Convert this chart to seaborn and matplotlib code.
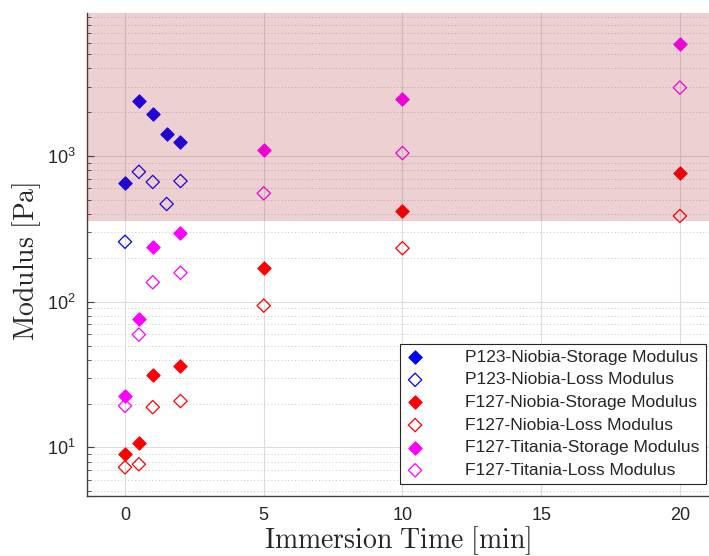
import numpy as np
import pandas as pd
import matplotlib
matplotlib.use("Agg")
import matplotlib.pyplot as plt
import matplotlib.ticker as mticker
import seaborn as sns

# ---- data ----
times_p123 = [0, 0.5, 1, 1.5, 2]
p123_storage = [653, 2380, 1940, 1415, 1247]
p123_loss = [258, 780, 664, 469, 674]

times_f127 = [0, 0.5, 1, 2, 5, 10, 20]
f127_nb_storage = [9.0, 10.8, 31.3, 36.1, 170, 418, 769]
f127_nb_loss = [7.3, 7.66, 18.9, 20.8, 94, 233, 388]
f127_ti_storage = [22.5, 76.6, 237, 295, 1094, 2466, 5875]
f127_ti_loss = [19.3, 59.5, 136, 158, 555, 1049, 2951]

series_labels = ["P123-Niobia-Storage Modulus", "P123-Niobia-Loss Modulus",
                 "F127-Niobia-Storage Modulus", "F127-Niobia-Loss Modulus",
                 "F127-Titania-Storage Modulus", "F127-Titania-Loss Modulus"]
series_colors = ["#0000ff", "#0000ff", "#ff0000", "#ff0000", "#ff00ff", "#ff00ff"]
series_filled = [True, False, True, False, True, False]
series_times = [times_p123, times_p123, times_f127, times_f127, times_f127, times_f127]
series_values = [p123_storage, p123_loss, f127_nb_storage, f127_nb_loss,
                 f127_ti_storage, f127_ti_loss]

shade_low = 360
xticks = [0, 5, 10, 15, 20]

# ---- style ----
sns.set_style("white")
plt.rcParams['font.family'] = ['Liberation Sans', 'DejaVu Sans']
plt.rcParams['mathtext.fontset'] = 'cm'

fig = plt.figure(figsize=(7.09, 5.56), dpi=100)
ax = fig.add_axes([87/709, 1-496/556, 1-87/709, (496-13)/556])

for lab, col, filled, t, v in zip(series_labels, series_colors, series_filled,
                                  series_times, series_values):
    df = pd.DataFrame({"t": t, "v": v})
    if filled:
        sns.scatterplot(data=df, x="t", y="v", ax=ax, marker="D", s=46,
                        color=col, edgecolor=col, linewidth=0.8, label=lab, zorder=3)
    else:
        sns.scatterplot(data=df, x="t", y="v", ax=ax, marker="D", s=46,
                        facecolor="none", edgecolor=col, linewidth=0.9, label=lab, zorder=3)

ax.set_yscale("log")
ax.set_xlim(-1.37, 21.05)
ax.set_ylim(4.64, 9600)

ax.axhspan(shade_low, 9600, color=(0.65, 0.08, 0.12), alpha=0.2, lw=0, zorder=5)

ax.set_xticks(xticks)
ax.yaxis.set_major_locator(mticker.LogLocator(base=10, numticks=10))
ax.yaxis.set_minor_locator(mticker.LogLocator(base=10, subs=np.arange(2, 10), numticks=20))
ax.yaxis.set_minor_formatter(mticker.NullFormatter())

ax.grid(True, which="major", axis="both", color="#dcdcdc", lw=0.8, ls="-", zorder=0)
ax.grid(True, which="minor", axis="y", color="#c8c8c8", lw=0.7, ls=(0, (1, 2.5)), zorder=0)
ax.set_axisbelow(True)

for s in ["top", "right"]:
    ax.spines[s].set_visible(False)
for s in ["left", "bottom"]:
    ax.spines[s].set_color("#404040")
    ax.spines[s].set_linewidth(1.0)

ax.tick_params(axis="both", which="major", direction="in", length=5, width=0.8,
               color="#404040", labelsize=13, labelcolor="#262626", pad=8)
ax.tick_params(axis="y", which="minor", direction="in", length=3, width=0.6, color="#404040")
ax.tick_params(axis="x", which="both", top=False)
ax.tick_params(axis="y", which="both", right=False, left=True)

ax.set_xlabel(r"$\mathrm{Immersion\ Time\ [min]}$", fontsize=20, color="#262626", labelpad=0)
ax.set_ylabel(r"$\mathrm{Modulus\ [Pa]}$", fontsize=20, color="#262626")
ax.yaxis.set_label_coords(-0.071, 0.485)

leg = ax.legend(loc="lower right", bbox_to_anchor=(0.995, 0.025), borderaxespad=0,
                fontsize=12.5, frameon=True, fancybox=False, edgecolor="#262626",
                framealpha=1, labelspacing=0.43, handletextpad=2.4, handlelength=1.0,
                borderpad=0.35)
leg.get_frame().set_linewidth(0.8)
leg.set_zorder(10)

fig.savefig("out.png", dpi=100)
